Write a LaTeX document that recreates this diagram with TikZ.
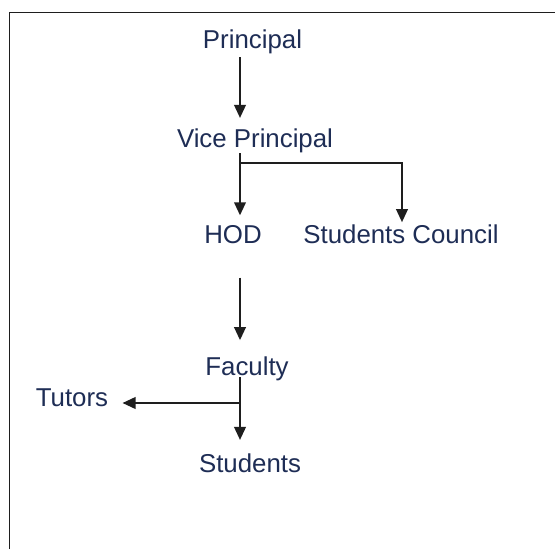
\documentclass[tikz,border=0pt]{standalone}
\usepackage{fontspec}
\setmainfont{Liberation Sans}
\usepackage{tikz}
\usetikzlibrary{arrows.meta, positioning}
\definecolor{roleText}{RGB}{30,45,85}
\definecolor{lineGrey}{RGB}{30,30,30}
\begin{document}
\begin{tikzpicture}[x=0.02cm,y=-0.02cm]
    \tikzstyle{every node} = [font=\fontsize{14.7}{17}\selectfont]
    \tikzstyle{role} = [text=roleText, inner sep=0pt, anchor=base]
    \tikzstyle{link} = [-{Triangle[length=7.4pt,width=6.6pt]}, line width=1.1pt, draw=lineGrey]
    \path[fill=white] (0,0) rectangle (555,549);
    \useasboundingbox (0,0) rectangle (555,549);
    % frame
    \coordinate (frameTL) at (9.5,12.5);
    \draw[line width=1pt, draw=lineGrey] (9.5,549) -- (frameTL) -- (555,12.5);

    % place nodes
    \node[role](principal) at (252.5,48){Principal};
    \node[role](vicePrincipal) at (255,147){Vice Principal};
    \node[role](hod) at (233,243){HOD};
    \node[role](studentsCouncil) at (401,243){Students Council};
    \node[role](faculty) at (247,375){Faculty};
    \node[role](tutors) at (72,406){Tutors};
    \node[role](students) at (250,472){Students};
    \coordinate (spine) at (240,0);
    \coordinate (vpSplit) at (240,163);
    \coordinate (facSplit) at (240,403);

    % Connections
    \draw[link,shorten <=2pt,shorten >=5.7pt]
    (principal.south -| spine)--(vicePrincipal.north -| spine);
    \draw[link,shorten <=0.3pt,shorten >=5.3pt]
    (vicePrincipal.south -| spine)--(hod.north -| spine);
    \draw[link,shorten >=1pt]
    (vpSplit)-|([xshift=0.02cm]studentsCouncil.north);
    \draw[link,shorten <=19.3pt,shorten >=9pt]
    (hod.south -| spine)--(faculty.north -| spine);
    \draw[link,shorten <=-2pt,shorten >=7.4pt]
    (faculty.south -| spine)--(students.north -| spine);
    \draw[link,shorten >=8pt]
    (facSplit)--(tutors.east |- facSplit);
  \end{tikzpicture}
\end{document}
